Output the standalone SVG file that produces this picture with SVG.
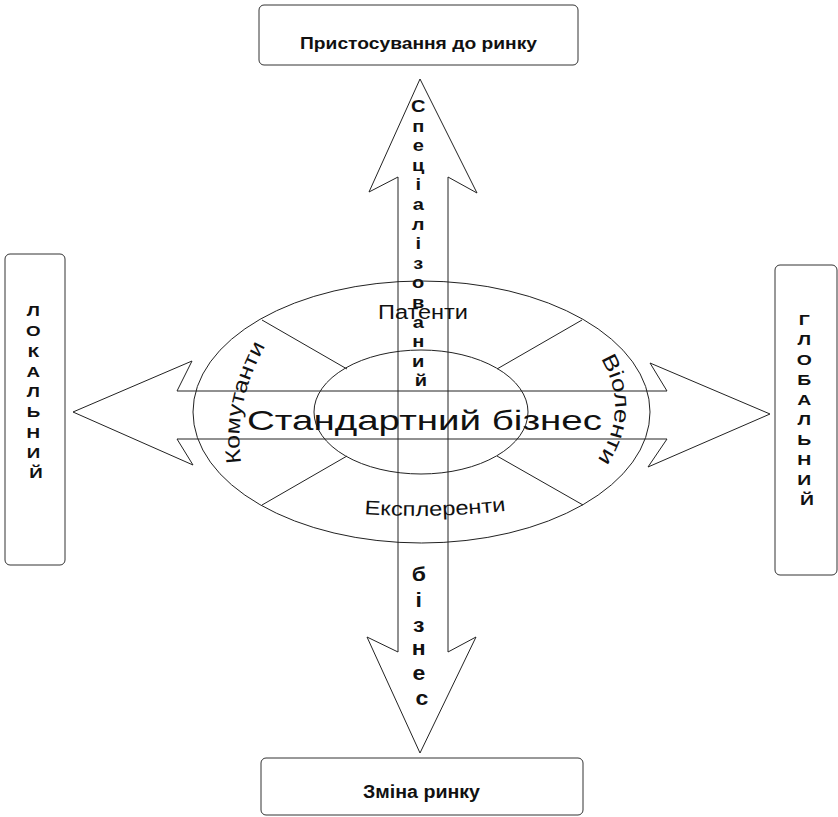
<svg xmlns="http://www.w3.org/2000/svg" width="838" height="817" viewBox="0 0 838 817">
  <style>
    .box { fill: none; stroke: #333; stroke-width: 1; }
    .ln { fill: none; stroke: #222; stroke-width: 1; }
    .t { font-family: "Liberation Sans", Arial, sans-serif; fill: #111; }
    .b { font-weight: bold; }
  </style>
  <defs>
    <path id="arcLeft" d="M243,474 Q229,405 271,336"/>
    <path id="arcRight" d="M594,348 Q638,410 590,470"/>
    <path id="arcBottom" d="M330,511 Q434,523 540,506"/>
  </defs>
  <rect width="838" height="817" fill="#fff"/>

  <!-- central ellipses and sector dividers -->
  <g id="core">
    <ellipse class="ln" cx="421.5" cy="412" rx="228.5" ry="131"/>
    <ellipse class="ln" cx="421" cy="412" rx="107" ry="62"/>
    <line class="ln" x1="262" y1="320" x2="347" y2="369"/>
    <line class="ln" x1="582" y1="320" x2="497" y2="369"/>
    <line class="ln" x1="262" y1="505" x2="347" y2="456"/>
    <line class="ln" x1="583" y1="505" x2="497" y2="456"/>
  </g>

  <!-- block arrows -->
  <g id="connectors">
    <polygon class="ln" points="420,79 477,193 448,177 448,652 476,637 420,753 367,637 398,652 398,177 369,192"/>
    <polygon class="ln" points="73,412 192,361 177,391 667,391 650,363 770,414 648,467 667,439 177,439 193,465"/>
  </g>

  <g id="node-top">
    <rect class="box" x="259" y="5" width="319" height="60" rx="5"/>
    <text class="t b" x="300" y="49" font-size="17" textLength="237" lengthAdjust="spacingAndGlyphs">Пристосування до ринку</text>
  </g>

  <g id="node-bottom">
    <rect class="box" x="261" y="758" width="322" height="57" rx="5"/>
    <text class="t b" x="363" y="798" font-size="17.5" textLength="117" lengthAdjust="spacingAndGlyphs">Зміна ринку</text>
  </g>

  <g id="node-left">
    <rect class="box" x="5" y="254" width="60" height="311" rx="5"/>
    <text class="t b" font-size="15" text-anchor="middle" transform="translate(36,0) scale(1.25,1) translate(-36,0)">
      <tspan x="36" y="316">Л</tspan>
      <tspan x="36" y="336.3">О</tspan>
      <tspan x="36" y="356.6">К</tspan>
      <tspan x="36" y="376.9">А</tspan>
      <tspan x="36" y="397.2">Л</tspan>
      <tspan x="36" y="417.5">Ь</tspan>
      <tspan x="36" y="437.8">Н</tspan>
      <tspan x="36" y="458.1">И</tspan>
      <tspan x="36" y="478.4">Й</tspan>
    </text>
  </g>

  <g id="node-right">
    <rect class="box" x="775" y="265" width="62" height="310" rx="5"/>
    <text class="t b" font-size="15.5" text-anchor="middle" transform="translate(807,0) scale(1.25,1) translate(-807,0)">
      <tspan x="807" y="325">Г</tspan>
      <tspan x="807" y="345">Л</tspan>
      <tspan x="807" y="365">О</tspan>
      <tspan x="807" y="385">Б</tspan>
      <tspan x="807" y="405">А</tspan>
      <tspan x="807" y="425">Л</tspan>
      <tspan x="807" y="445">Ь</tspan>
      <tspan x="807" y="465">Н</tspan>
      <tspan x="807" y="485">И</tspan>
      <tspan x="807" y="505">Й</tspan>
    </text>
  </g>

  <!-- label stacked inside the upward arrow -->
  <g id="label-up">
    <text class="t b" font-size="16" text-anchor="middle" transform="translate(421,0) scale(1.25,1) translate(-421,0)">
      <tspan x="421" y="112">С</tspan>
      <tspan x="421" y="131.6">п</tspan>
      <tspan x="421" y="151.2">е</tspan>
      <tspan x="421" y="170.8">ц</tspan>
      <tspan x="421" y="190.4">і</tspan>
      <tspan x="421" y="210">а</tspan>
      <tspan x="421" y="229.6">л</tspan>
      <tspan x="421" y="249.2">і</tspan>
      <tspan x="421" y="268.8">з</tspan>
      <tspan x="421" y="288.4">о</tspan>
      <tspan x="421" y="308">в</tspan>
      <tspan x="421" y="327.6">а</tspan>
      <tspan x="421" y="347.2">н</tspan>
      <tspan x="421" y="366.8">и</tspan>
      <tspan x="421" y="386.4">й</tspan>
    </text>
  </g>

  <!-- label stacked inside the downward arrow -->
  <g id="label-down">
    <text class="t b" font-size="20" text-anchor="middle" transform="translate(422,0) scale(1.15,1) translate(-422,0)">
      <tspan x="422" y="581">б</tspan>
      <tspan x="422" y="607">і</tspan>
      <tspan x="422" y="632">з</tspan>
      <tspan x="422" y="655">н</tspan>
      <tspan x="422" y="680">е</tspan>
      <tspan x="422" y="705">с</tspan>
    </text>
  </g>

  <g id="center-label">
    <text class="t" x="247" y="430" font-size="28" textLength="355" lengthAdjust="spacingAndGlyphs">Стандартний бізнес</text>
  </g>

  <g id="sector-labels">
    <text class="t" x="378" y="319" font-size="20" textLength="90" lengthAdjust="spacingAndGlyphs">Патенти</text>
    <text class="t" font-size="21"><textPath href="#arcLeft" startOffset="50%" text-anchor="middle" textLength="122" lengthAdjust="spacingAndGlyphs">Комутанти</textPath></text>
    <text class="t" font-size="21"><textPath href="#arcRight" startOffset="50%" text-anchor="middle" textLength="108" lengthAdjust="spacingAndGlyphs">Віоленти</textPath></text>
    <text class="t" font-size="20"><textPath href="#arcBottom" startOffset="50%" text-anchor="middle" textLength="142" lengthAdjust="spacingAndGlyphs">Експлеренти</textPath></text>
  </g>
</svg>
